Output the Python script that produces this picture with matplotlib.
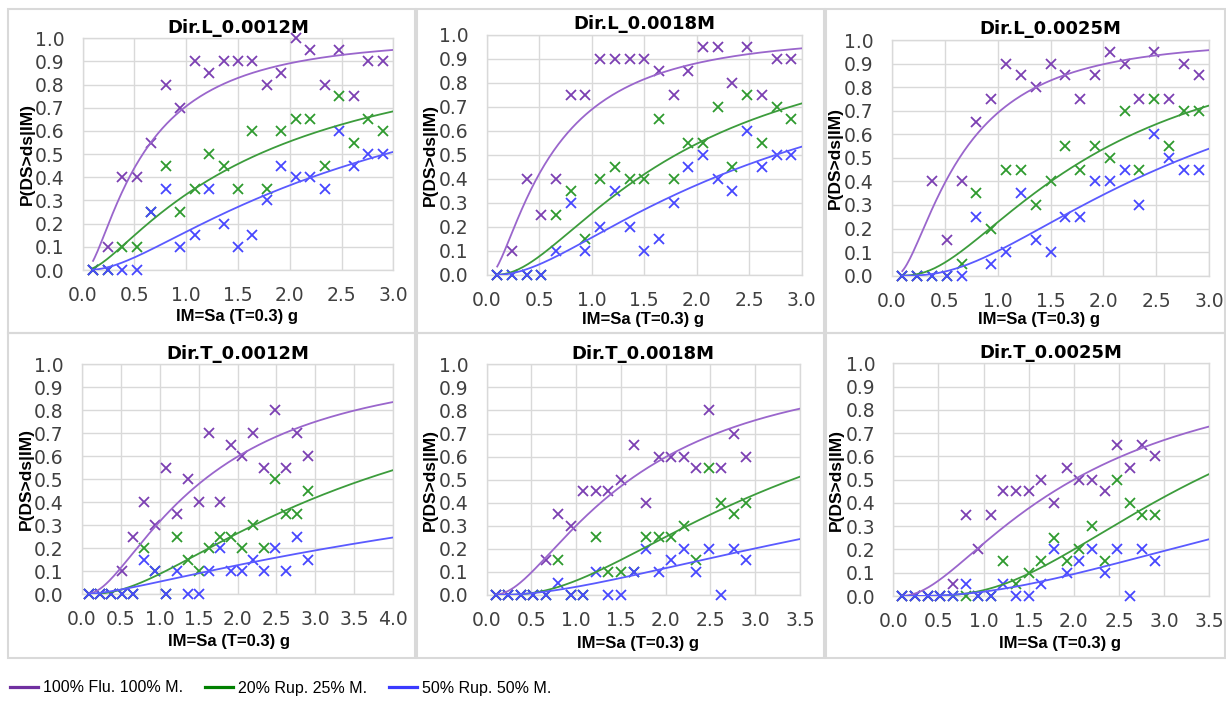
import math
import numpy as np
import matplotlib.pyplot as plt
from matplotlib.lines import Line2D
from matplotlib.patches import Rectangle

# intensity levels (Sa at T=0.3 s, in g)
im = [0.10, 0.24, 0.38, 0.52, 0.66, 0.80, 0.94, 1.08, 1.22, 1.36, 1.50,
      1.64, 1.78, 1.92, 2.06, 2.20, 2.34, 2.48, 2.62, 2.76, 2.90]

titles = ["Dir.L_0.0012M", "Dir.L_0.0018M", "Dir.L_0.0025M",
          "Dir.T_0.0012M", "Dir.T_0.0018M", "Dir.T_0.0025M"]
x_max = [3.0, 3.0, 3.0, 4.0, 3.5, 3.5]
series_names = ["100% Flu. 100% M.", "20% Rup. 25% M.", "50% Rup. 50% M."]

# observed exceedance fractions
flu_L12 = [0, 0.1, 0.4, 0.4, 0.55, 0.8, 0.7, 0.9, 0.85, 0.9, 0.9,
           0.9, 0.8, 0.85, 1.0, 0.95, 0.8, 0.95, 0.75, 0.9, 0.9]
r20_L12 = [0, 0, 0.1, 0.1, 0.25, 0.45, 0.25, 0.35, 0.5, 0.45, 0.35,
           0.6, 0.35, 0.6, 0.65, 0.65, 0.45, 0.75, 0.55, 0.65, 0.6]
r50_L12 = [0, 0, 0, 0, 0.25, 0.35, 0.1, 0.15, 0.35, 0.2, 0.1,
           0.15, 0.3, 0.45, 0.4, 0.4, 0.35, 0.6, 0.45, 0.5, 0.5]

flu_L18 = [0, 0.1, 0.4, 0.25, 0.4, 0.75, 0.75, 0.9, 0.9, 0.9, 0.9,
           0.85, 0.75, 0.85, 0.95, 0.95, 0.8, 0.95, 0.75, 0.9, 0.9]
r20_L18 = [0, 0, 0, 0, 0.25, 0.35, 0.15, 0.4, 0.45, 0.4, 0.4,
           0.65, 0.4, 0.55, 0.55, 0.7, 0.45, 0.75, 0.55, 0.7, 0.65]
r50_L18 = [0, 0, 0, 0, 0.1, 0.3, 0.1, 0.2, 0.35, 0.2, 0.1,
           0.15, 0.3, 0.45, 0.5, 0.4, 0.35, 0.6, 0.45, 0.5, 0.5]

flu_L25 = [0, 0, 0.4, 0.15, 0.4, 0.65, 0.75, 0.9, 0.85, 0.8, 0.9,
           0.85, 0.75, 0.85, 0.95, 0.9, 0.75, 0.95, 0.75, 0.9, 0.85]
r20_L25 = [0, 0, 0, 0, 0.05, 0.35, 0.2, 0.45, 0.45, 0.3, 0.4,
           0.55, 0.45, 0.55, 0.5, 0.7, 0.45, 0.75, 0.55, 0.7, 0.7]
r50_L25 = [0, 0, 0, 0, 0, 0.25, 0.05, 0.1, 0.35, 0.15, 0.1,
           0.25, 0.25, 0.4, 0.4, 0.45, 0.3, 0.6, 0.5, 0.45, 0.45]

flu_T12 = [0, 0, 0, 0.1, 0.25, 0.4, 0.3, 0.55, 0.35, 0.5, 0.4,
           0.7, 0.4, 0.65, 0.6, 0.7, 0.55, 0.8, 0.55, 0.7, 0.6]
r20_T12 = [0, 0, 0, 0, 0, 0.2, 0.1, 0, 0.25, 0.15, 0.1,
           0.2, 0.25, 0.25, 0.2, 0.3, 0.2, 0.5, 0.35, 0.35, 0.45]
r50_T12 = [0, 0, 0, 0, 0, 0.15, 0.1, 0, 0.1, 0, 0,
           0.1, 0.2, 0.1, 0.1, 0.15, 0.1, 0.2, 0.1, 0.25, 0.15]

flu_T18 = [0, 0, 0, 0, 0.15, 0.35, 0.3, 0.45, 0.45, 0.45, 0.5,
           0.65, 0.4, 0.6, 0.6, 0.6, 0.55, 0.8, 0.55, 0.7, 0.6]
r20_T18 = [0, 0, 0, 0, 0, 0.15, 0, 0, 0.25, 0.1, 0.1,
           0.1, 0.25, 0.25, 0.25, 0.3, 0.15, 0.55, 0.4, 0.35, 0.4]
r50_T18 = [0, 0, 0, 0, 0, 0.05, 0, 0, 0.1, 0, 0,
           0.1, 0.2, 0.1, 0.15, 0.2, 0.1, 0.2, 0, 0.2, 0.15]

flu_T25 = [0, 0, 0, 0, 0.05, 0.35, 0.2, 0.35, 0.45, 0.45, 0.45,
           0.5, 0.4, 0.55, 0.5, 0.5, 0.45, 0.65, 0.55, 0.65, 0.6]
r20_T25 = [0, 0, 0, 0, 0, 0, 0, 0, 0.15, 0.05, 0.1,
           0.15, 0.25, 0.15, 0.2, 0.3, 0.15, 0.5, 0.4, 0.35, 0.35]
r50_T25 = [0, 0, 0, 0, 0, 0.05, 0, 0, 0.05, 0, 0,
           0.05, 0.2, 0.1, 0.15, 0.2, 0.1, 0.2, 0, 0.2, 0.15]

# fitted lognormal fragility parameters (median in g, dispersion)
flu_median = [0.58, 0.61, 0.64, 1.58, 1.60, 2.00]
flu_beta = [1.00, 1.00, 0.90, 0.95, 0.90, 0.92]
r20_median = [1.70, 1.80, 1.85, 3.64, 3.41, 3.37]
r20_beta = [1.18, 0.90, 0.82, 0.95, 0.80, 0.62]
r50_median = [2.92, 2.75, 2.77, 11.2, 7.70, 6.53]
r50_beta = [1.10, 1.00, 0.81, 1.50, 1.13, 0.90]

observed = [
    [flu_L12, r20_L12, r50_L12],
    [flu_L18, r20_L18, r50_L18],
    [flu_L25, r20_L25, r50_L25],
    [flu_T12, r20_T12, r50_T12],
    [flu_T18, r20_T18, r50_T18],
    [flu_T25, r20_T25, r50_T25],
]
medians = list(zip(flu_median, r20_median, r50_median))
betas = list(zip(flu_beta, r20_beta, r50_beta))

marker_colors = ["#7b3fb2", "#2e9a2e", "#4646ff"]
line_colors = ["#9a66cc", "#3c9c3c", "#5a5aff"]
legend_colors = ["#7030a0", "#008000", "#3a3aff"]
label_font = ["Liberation Sans", "DejaVu Sans"]


def lognorm_cdf(x, median, beta):
    z = np.log(x / median) / beta
    return np.array([0.5 * (1.0 + math.erf(v / math.sqrt(2.0))) for v in z])


W, H = 1226, 702
fig = plt.figure(figsize=(W / 100, H / 100), dpi=100)

# chart frames (left, top, right, bottom) in pixels
frames = [(8, 9, 415, 333), (417, 9, 824, 333), (826, 9, 1225, 333),
          (8, 333, 415, 658), (417, 333, 824, 658), (826, 333, 1225, 658)]
for l, t, r, b in frames:
    fig.add_artist(Rectangle((l / W, (H - b) / H), (r - l) / W, (b - t) / H,
                             transform=fig.transFigure, fill=False,
                             edgecolor="#d9d9d9", lw=1.5))

# plot areas (left, top, right, bottom) in pixels
plot_areas = [(82.7, 38.3, 393.3, 270), (486.7, 35, 801.7, 275),
              (891.7, 40, 1209.3, 275.7), (81.7, 364.3, 393.3, 594),
              (486.7, 364.3, 800, 595), (893.3, 363.3, 1209.3, 596)]
xlabel_x = [0.496, 0.497, 0.464, 0.473, 0.484, 0.527]
xlabel_y = [-0.17, -0.155, -0.155, -0.176, -0.178, -0.172]

for k, (l, t, r, b) in enumerate(plot_areas):
    ax = fig.add_axes([l / W, (H - b) / H, (r - l) / W, (b - t) / H])
    for s in range(3):
        ax.plot(im, observed[k][s], "x", color=marker_colors[s],
                markersize=7.5, markeredgewidth=1.3, clip_on=False, zorder=3)
    xs = np.linspace(im[0], x_max[k], 200)
    for s in range(3):
        ax.plot(xs, lognorm_cdf(xs, medians[k][s], betas[k][s]),
                color=line_colors[s], lw=1.3, zorder=4)

    ax.set_xlim(0, x_max[k])
    ax.set_ylim(0, 1.0)
    ax.set_xticks(np.arange(0, x_max[k] + 0.01, 0.5))
    ax.set_yticks(np.arange(0, 1.01, 0.1))
    ax.xaxis.set_major_formatter("{x:.1f}")
    ax.yaxis.set_major_formatter("{x:.1f}")
    ax.tick_params(length=0, labelsize=13.5, labelcolor="#404040")
    ax.tick_params(axis="x", pad=11.5)
    ax.tick_params(axis="y", pad=13)
    ax.grid(True, color="#d9d9d9", lw=1.0)
    ax.set_axisbelow(True)
    for sp in ax.spines.values():
        sp.set_color("#d9d9d9")
        sp.set_linewidth(1.0)

    ax.set_title(titles[k], fontsize=13, fontweight="bold", pad=4)
    ax.set_xlabel("IM=Sa (T=0.3) g", fontsize=12, fontweight="bold",
                  family=label_font)
    ax.set_ylabel("P(DS>ds|IM)", fontsize=12.5, fontweight="bold",
                  family=label_font)
    ax.xaxis.set_label_coords(xlabel_x[k], xlabel_y[k])
    ax.yaxis.set_label_coords(-0.155, 0.5)

handles = [Line2D([], [], color=c, lw=2.3) for c in legend_colors]
fig.legend(handles, series_names, loc="center left",
           bbox_to_anchor=(10 / W, (H - 688) / H), ncol=3, frameon=False,
           handlelength=1.75, handletextpad=0.3, columnspacing=1.4,
           borderpad=0, borderaxespad=0,
           prop={"family": label_font, "size": 11.5})

fig.savefig("out.png", dpi=100)
